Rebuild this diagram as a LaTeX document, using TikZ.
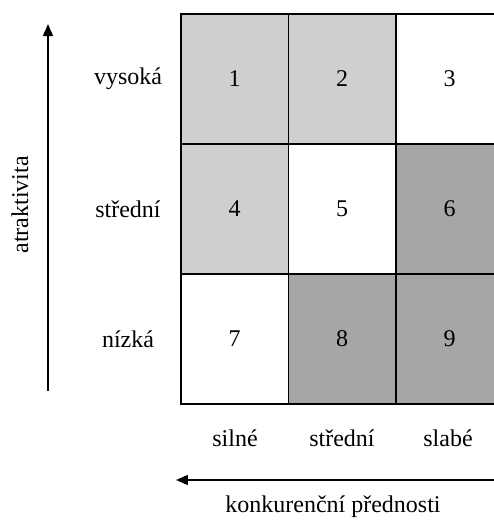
\documentclass[tikz,border=0pt]{standalone}
\usepackage{fontspec}
\setmainfont{Liberation Serif}
\usetikzlibrary{arrows.meta}
\definecolor{lightcell}{RGB}{208,206,208}
\definecolor{darkcell}{RGB}{166,166,166}

\begin{document}
\begin{tikzpicture}[x=0.5pt, y=0.5pt, font=\fontsize{12}{14}\selectfont,
    cell/.style={draw, line width=0.9pt, minimum width=53.75pt, minimum height=65pt, inner sep=0pt},
    axis/.style={-{Triangle[length=6pt, width=5pt]}, line width=0.6pt}]
  \useasboundingbox (0,0) rectangle (494,527);
  \clip (0,0) rectangle (494,527);
  % the nine cells, row by row
  \foreach \n/\col/\row/\shade in {1/0/0/lightcell, 2/1/0/lightcell, 3/2/0/white,
                                  4/0/1/lightcell, 5/1/1/white, 6/2/1/darkcell,
                                  7/0/2/white, 8/1/2/darkcell, 9/2/2/darkcell}
    \node[cell, fill=\shade] (c\n) at (234.75+107.5*\col, 448-130*\row) {\n};
  % row labels
  \node (high) at (128,448) {vysoká};
  \node (mid) at (128,318) {střední};
  \node (low) at (128,188) {nízká};
  % column labels
  \node (strong) at (235,89) {silné};
  \node (medium) at (342,89) {střední};
  \node (weak) at (448,89) {slabé};
  % axes
  \coordinate (ybot) at (48,136);
  \coordinate (ytop) at (48,503);
  \draw[axis] (ybot) -- (ytop);
  \node[rotate=90] (attr) at (20,322) {atraktivita};
  \coordinate (xright) at (500,47);
  \coordinate (xleft) at (176,47);
  \draw[axis] (xright) -- (xleft);
  \node (adv) at (333,20) {konkurenční přednosti};
\end{tikzpicture}
\end{document}
